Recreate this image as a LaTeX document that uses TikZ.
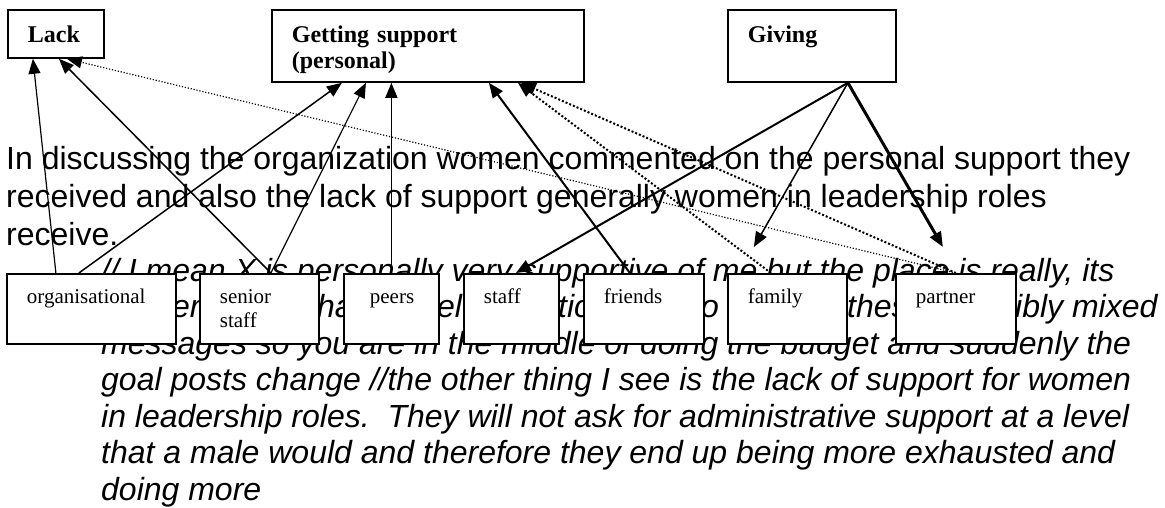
\documentclass[tikz,border=0pt]{standalone}
\usepackage{fontspec}
\setmainfont{Liberation Serif}
\newfontfamily\arialfont{Liberation Sans}
\usetikzlibrary{arrows.meta}

\tikzset{
  topbox/.style={draw, line width=1.8pt, fill=white, anchor=north west,
    inner xsep=20pt, inner ysep=0pt, align=left,
    font=\fontsize{24}{25.5}\selectfont\bfseries},
  catbox/.style={draw, line width=1.8pt, fill=white, anchor=north west,
    inner xsep=20pt, inner ysep=0pt, align=left, text height=30pt, text depth=40pt,
    font=\fontsize{21}{23.5}\selectfont},
  bodytext/.style={anchor=base west, inner sep=0pt,
    font=\arialfont\fontsize{32}{37}\selectfont},
  quotetext/.style={anchor=base west, inner sep=0pt,
    font=\arialfont\itshape\fontsize{32}{37}\selectfont},
  link/.style={-{Triangle[length=15pt,width=12pt]}},
  dots/.style={link, line width=2pt, dash pattern=on 2pt off 2pt},
  finedots/.style={link, line width=1.2pt, dash pattern=on 1.2pt off 1.8pt}
}

\begin{document}
\begin{tikzpicture}[x=1pt, y=-1pt]
    \useasboundingbox (0,0) rectangle (1165,508);

    % running text
    \node[bodytext] (p1) at (6,170) {In discussing the organization women commented on the personal support they};
    \node[bodytext] (p2) at (6,207.5) {received and also the lack of support generally women in leadership roles};
    \node[bodytext] (p3) at (6,245) {receive.};

    % quote, second line mostly under the boxes
    \node[quotetext] (q1) at (101,281) {// I mean X is personally very supportive of me but the place is really, its};
    \foreach \x/\w [count=\i] in {172/er, 317/ha, 437/el, 558/tic, 701/o, 847/thes, 1015/ibly mixed}
    \node[quotetext] (q2\i) at (\x,317.5) {\w};
    \node[quotetext] (q3) at (101,354) {messages so you are in the middle of doing the budget and suddenly the};
    \node[quotetext] (q4) at (101,390.5) {goal posts change //the other thing I see is the lack of support for women};
    \node[quotetext] (q5) at (101,427) {in leadership roles.\ \ They will not ask for administrative support at a level};
    \node[quotetext] (q6) at (101,463.5) {that a male would and therefore they end up being more exhausted and};
    \node[quotetext] (q7) at (101,500) {doing more};

    % top categories
    \node[topbox, text width=56pt, text height=33pt, text depth=15pt] (lack) at (7,9) {Lack};
    \node[topbox, text width=272pt, text height=33pt, text depth=39pt] (gs) at (271,9) {Getting support\\(personal)};
    \node[topbox, text width=128pt, text height=33pt, text depth=39pt] (giving) at (727,9) {Giving};

    % sources
    \node[catbox, text width=129pt] (org) at (6,273) {organisational};
    \node[catbox, text width=79pt] (senior) at (199,273) {senior\\staff};
    \node[catbox, text width=55pt] (peers) at (343,273) {\hspace*{6pt}peers};
    \node[catbox, text width=55pt] (staff) at (463,273) {staff};
    \node[catbox, text width=80pt] (friends) at (583,273) {friends};
    \node[catbox, text width=79pt] (family) at (727,273) {family};
    \node[catbox, text width=80pt] (partner) at (895,273) {partner};

    % links
    \draw[link, line width=1.2pt] ([xshift=-35.5pt]org.north) -- ([xshift=-23pt]lack.south);
    \draw[link, line width=1.5pt] ([xshift=11.5pt]senior.north) -- ([xshift=3pt]lack.south);
    \draw[link, line width=1.5pt] ([xshift=-12.5pt]org.north) -- ([xshift=-86pt]gs.south);
    \draw[link, line width=1.2pt] ([xshift=11.5pt]senior.north) -- ([xshift=-62pt]gs.south);
    \draw[link, line width=1.5pt] (peers.north) -- (peers.north |- gs.south);
    \draw[link, line width=2pt] ([xshift=-14pt]friends.north) -- ([xshift=61pt]gs.south);
    \draw[dots] ([xshift=-16.5pt]family.north) -- ([xshift=90pt]gs.south);
    \draw[dots] (partner.north) -- ([xshift=93pt]gs.south);
    \draw[finedots] (partner.north) -- ([xshift=11pt]lack.south);
    \draw[link, line width=2pt] ([xshift=36pt]giving.south) -- ([xshift=4.5pt]staff.north);
    \draw[link, line width=1.5pt] ([xshift=36pt]giving.south) -- ([xshift=-33.5pt,yshift=26pt]family.north);
    \draw[link, line width=3pt] ([xshift=36pt]giving.south) -- ([xshift=-13pt,yshift=26pt]partner.north);
\end{tikzpicture}
\end{document}
